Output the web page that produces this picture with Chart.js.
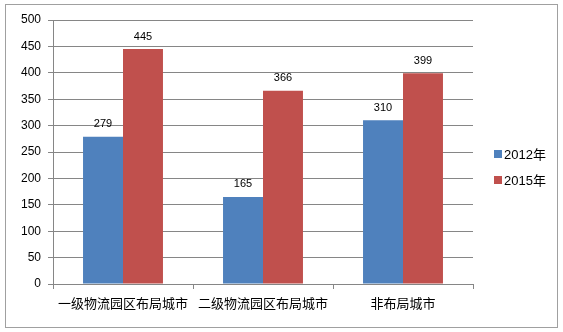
<!DOCTYPE html>
<html>
<head>
<meta charset="utf-8">
<script src="https://cdn.jsdelivr.net/npm/chart.js@4"></script>
<style>
  html, body { margin: 0; padding: 0; background: #fff; }
  #wrap { width: 563px; height: 332px; }
</style>
</head>
<body>
<div id="wrap"><canvas id="grafico" width="563" height="332"></canvas></div>
<script>
const categorias = ["一级物流园区布局城市", "二级物流园区布局城市", "非布局城市"];
const serie2012 = [279, 165, 310];
const serie2015 = [445, 366, 399];
const rotulos = ["2012年", "2015年"];
const ticksY = [0, 50, 100, 150, 200, 250, 300, 350, 400, 450, 500];

// moldura cinza em volta do gráfico
const moldura = {
    id: "moldura",
    afterDraw(chart) {
        const c = chart.ctx;
        c.save();
        c.strokeStyle = "#a0a0a0";
        c.lineWidth = 1;
        c.strokeRect(5.5, 4.5, 552, 323);
        c.restore();
    }
};

// valores em cima das barras
const valores = {
    id: "valores",
    afterDatasetsDraw(chart) {
        const c = chart.ctx;
        c.save();
        c.font = "11px 'Liberation Sans', Arial, sans-serif";
        c.fillStyle = "#000";
        c.textAlign = "center";
        c.textBaseline = "bottom";
        chart.data.datasets.forEach((ds, i) => {
            chart.getDatasetMeta(i).data.forEach((bar, j) => {
                c.fillText(ds.data[j], bar.x, bar.y - 7);
            });
        });
        c.restore();
    }
};

// legenda à direita, como no Excel
const legenda = {
    id: "legenda",
    afterDraw(chart) {
        const c = chart.ctx;
        const x0 = chart.chartArea.right + 21;
        c.save();
        c.font = "13px 'Liberation Sans', 'Noto Sans CJK SC', sans-serif";
        c.textBaseline = "middle";
        chart.data.datasets.forEach((ds, i) => {
            const y = 154 + i * 26;
            c.fillStyle = ds.backgroundColor;
            c.fillRect(x0, y - 4, 8, 8);
            c.fillStyle = "#000";
            c.fillText(ds.label, x0 + 10, y + 1);
        });
        c.restore();
    }
};

document.addEventListener("DOMContentLoaded", () => {
    const ctx = document.getElementById("grafico");

    new Chart(ctx, {
        type: "bar",
        data: {
            labels: categorias,
            datasets: [{
                label: rotulos[0],
                data: serie2012,
                backgroundColor: "#4F81BD",
                categoryPercentage: 0.571,
                barPercentage: 1
            }, {
                label: rotulos[1],
                data: serie2015,
                backgroundColor: "#C0504D",
                categoryPercentage: 0.571,
                barPercentage: 1
            }]
        },
        options: {
            responsive: false,
            animation: false,
            layout: { padding: { left: 8, top: 20, right: 90, bottom: 0 } },
            plugins: {
                legend: { display: false },
                tooltip: { enabled: false }
            },
            scales: {
                y: {
                    min: 0,
                    max: 500,
                    afterBuildTicks(s) { s.ticks = ticksY.map(v => ({ value: v })); },
                    afterFit(s) { s.width = 45; },
                    border: { color: "#868686" },
                    grid: { color: "#868686", tickLength: 5 },
                    ticks: {
                        padding: 7,
                        color: "#000",
                        font: { family: "'Liberation Sans', Arial, sans-serif", size: 12 }
                    }
                },
                x: {
                    afterFit(s) { s.height = 48; },
                    border: { color: "#868686" },
                    grid: { drawOnChartArea: false, color: "#868686", tickLength: 5 },
                    ticks: {
                        padding: 6,
                        color: "#000",
                        font: { family: "'Noto Sans CJK SC', sans-serif", size: 13 }
                    }
                }
            }
        },
        plugins: [moldura, valores, legenda]
    });
});
</script>
</body>
</html>
